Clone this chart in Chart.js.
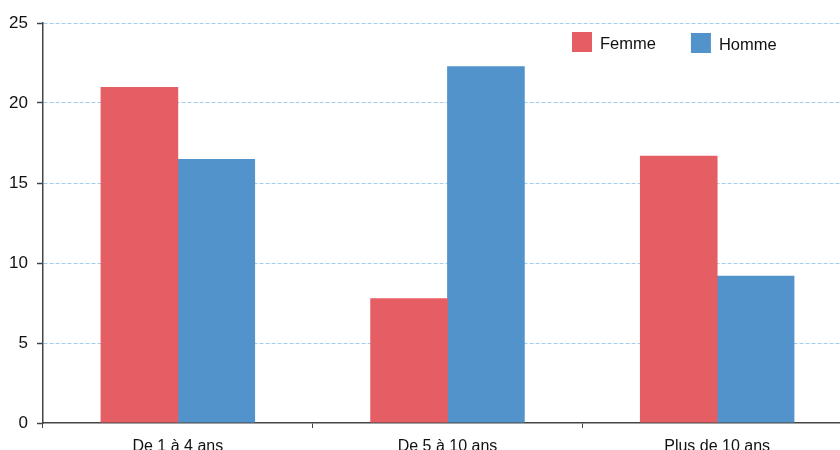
<!DOCTYPE html>
<html>
<head>
<meta charset="utf-8">
<script src="https://cdn.jsdelivr.net/npm/chart.js@4.4.1/dist/chart.umd.min.js"></script>
<style>
  html, body { margin: 0; padding: 0; background: #fff; width: 840px; height: 450px; overflow: hidden; }
  #wrap { position: relative; width: 870px; height: 470px; }
</style>
</head>
<body>
<div id="wrap"><canvas id="chart" width="870" height="470"></canvas></div>
<script>
// Durée par tranche, par sexe
const categories = ['De 1 à 4 ans', 'De 5 à 10 ans', 'Plus de 10 ans'];
const seriesNames = ['Femme', 'Homme'];
const femme = [21.0, 7.8, 16.7];
const homme = [16.5, 22.3, 9.2];
const yTicks = [0, 5, 10, 15, 20, 25];

const FONT = "'Liberation Sans', Arial, sans-serif";
const RED = '#e55e63';
const BLUE = '#5293cb';
const AXIS = '#444444';
const GRID = '#a3cdeb';

// Legend drawn inside the plot, top right
const insideLegend = {
  id: 'insideLegend',
  afterDraw(chart) {
    const ctx = chart.ctx;
    ctx.save();
    ctx.font = '16.5px ' + FONT;
    ctx.textBaseline = 'middle';
    let x = 572;
    const y = 32;
    chart.data.datasets.forEach((ds, i) => {
      ctx.fillStyle = ds.backgroundColor;
      ctx.fillRect(x, y + i, 20, 20);
      ctx.fillStyle = '#111';
      ctx.fillText(ds.label, x + 28, y + 12 + i);
      x += 20 + 8 + ctx.measureText(ds.label).width + 35;
    });
    ctx.restore();
  }
};

new Chart(document.getElementById('chart'), {
  type: 'bar',
  data: {
    labels: categories,
    datasets: [
      { label: seriesNames[0], data: femme, backgroundColor: RED, borderWidth: 0 },
      { label: seriesNames[1], data: homme, backgroundColor: BLUE, borderWidth: 0 }
    ]
  },
  options: {
    responsive: false,
    devicePixelRatio: 1,
    animation: false,
    layout: { padding: { top: 23, right: 18, left: 0, bottom: 0 } },
    datasets: { bar: { categoryPercentage: 0.57, barPercentage: 1.01 } },
    plugins: { legend: { display: false }, tooltip: { enabled: false } },
    scales: {
      x: {
        grid: {
          display: true, drawOnChartArea: false, drawTicks: true,
          tickLength: 5, tickColor: AXIS, tickWidth: 1, offset: true
        },
        border: { display: true, color: AXIS, width: 1.5 },
        ticks: { color: '#111', font: { family: FONT, size: 16 }, padding: 9, maxRotation: 0 },
        afterFit(scale) { scale.height = 47; }
      },
      y: {
        min: yTicks[0],
        max: yTicks[yTicks.length - 1],
        grid: {
          color: (c) => (c.tick && c.tick.value === 0 ? 'rgba(0,0,0,0)' : GRID),
          lineWidth: 1,
          drawTicks: true, tickLength: 6, tickColor: AXIS, tickWidth: 1.5, tickBorderDash: []
        },
        border: { display: true, color: AXIS, width: 1.5, dash: [4, 2] },
        ticks: {
          stepSize: yTicks[1] - yTicks[0],
          color: '#111', font: { family: FONT, size: 17 }, padding: 9
        },
        afterFit(scale) { scale.width = 43; }
      }
    }
  },
  plugins: [insideLegend]
});
</script>
</body>
</html>
